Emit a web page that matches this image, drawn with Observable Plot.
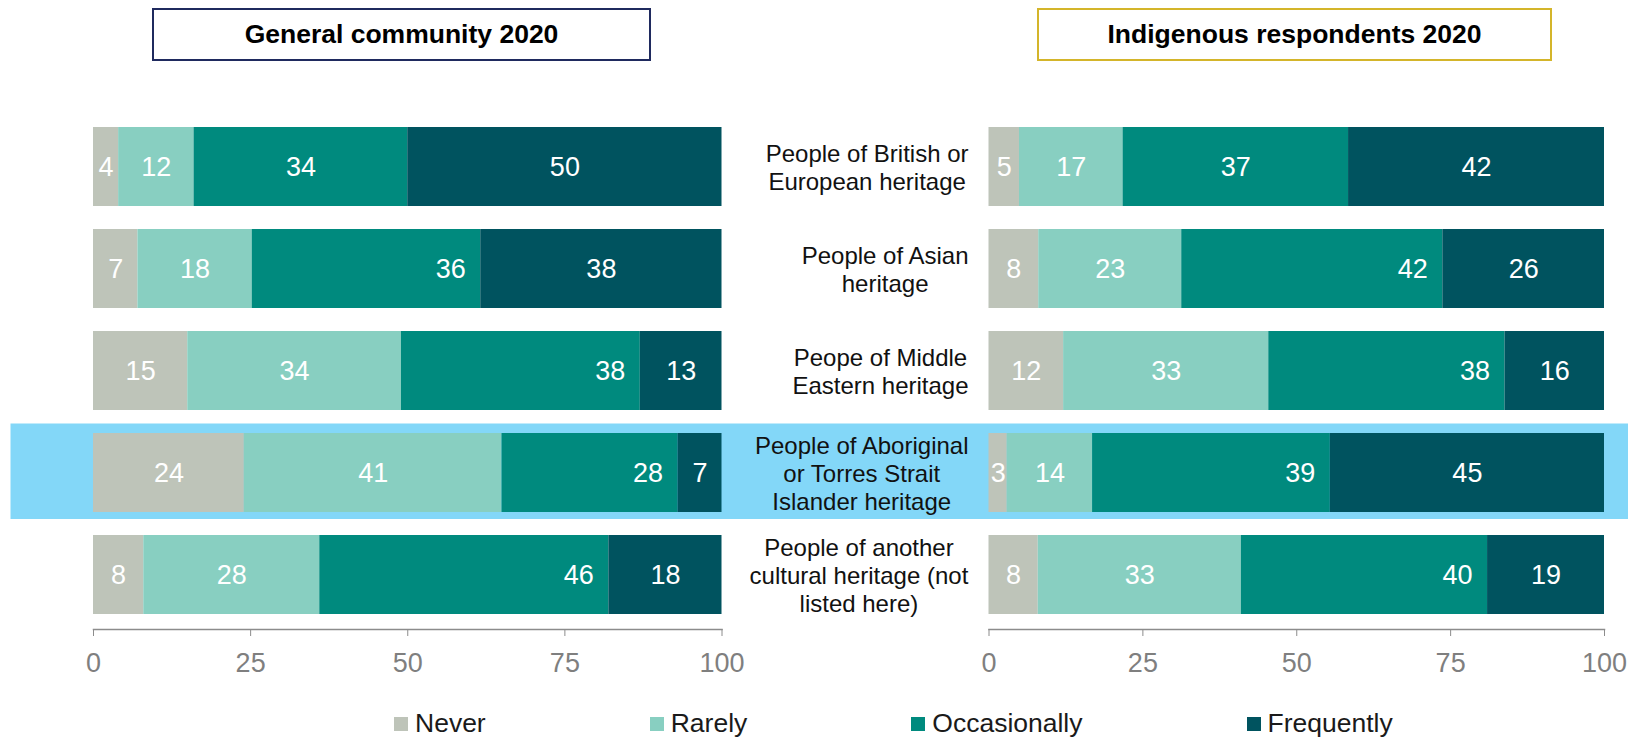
<!DOCTYPE html>
<html>
<head>
<meta charset="utf-8">
<script src="https://cdn.jsdelivr.net/npm/d3@7"></script>
<script src="https://cdn.jsdelivr.net/npm/@observablehq/plot@0.6"></script>
<style>
  body { margin: 0; background: #fff; }
  #root { position: relative; width: 1642px; height: 738px; font-family: "Liberation Sans", Arial, sans-serif; overflow: hidden; }
  .title { position: absolute; box-sizing: border-box; top: 8px; height: 53px; border: 2px solid; display: flex; align-items: center; justify-content: center; font-weight: bold; font-size: 26.5px; color: #000; }
  .panel { position: absolute; top: 70px; }
  #legend { position: absolute; left: 394px; top: 707px; }
  .lg-swatches-wrap .lg-swatch { margin-right: 164px !important; }
  .lg-swatch > svg { margin-right: 7px !important; }
</style>
</head>
<body>
<div id="root"></div>
<script>
// ---- data ----
const categories = [
  "People of British or\nEuropean heritage",
  "People of Asian\nheritage",
  "Peope of Middle\nEastern heritage",
  "People of Aboriginal\nor Torres Strait\nIslander heritage",
  "People of another\ncultural heritage (not\nlisted here)"
];
const series = ["Never", "Rarely", "Occasionally", "Frequently"];
const colors = ["#bec4b9", "#88cfc1", "#008a7e", "#00535f"];

const generalNever        = [4, 7, 15, 24, 8];
const generalRarely       = [12, 18, 34, 41, 28];
const generalOccasionally = [34, 36, 38, 28, 46];
const generalFrequently   = [50, 38, 13, 7, 18];

const indigenousNever        = [5, 8, 12, 3, 8];
const indigenousRarely       = [17, 23, 33, 14, 33];
const indigenousOccasionally = [37, 42, 38, 39, 40];
const indigenousFrequently   = [42, 26, 16, 45, 19];

const xTicks = [0, 25, 50, 75, 100];
const panelTitles = ["General community 2020", "Indigenous respondents 2020"];
const highlightCategory = categories[3];
// rows whose "Occasionally" label sits at the inside end of the segment
const occasionallyEndLabel = [false, true, true, true, true];

// ---- styles ----
const highlightColor = "#83d7f8";
const fontFamily = "\"Liberation Sans\", Arial, sans-serif";

const root = document.getElementById("root");

function makeTitle(text, left, width, border) {
  const d = document.createElement("div");
  d.className = "title";
  d.style.left = left + "px";
  d.style.width = width + "px";
  d.style.borderColor = border;
  d.textContent = text;
  root.appendChild(d);
}
makeTitle(panelTitles[0], 152, 499, "#1f2a5e");
makeTitle(panelTitles[1], 1037, 515, "#d4b52a");

function buildData(values) {
  const data = [];
  series.forEach((s, si) => {
    categories.forEach((c, ci) => {
      data.push({
        category: c,
        series: s,
        value: values[si][ci],
        end: s === "Occasionally" && occasionallyEndLabel[ci]
      });
    });
  });
  return data;
}

function panel({values, width, marginLeft, marginRight, hlLeft, hlRight, showLabels}) {
  const data = buildData(values);
  const st = {offset: "normalize", x: "value", y: "category", z: "series"};
  return Plot.plot({
    width,
    height: 615,
    marginTop: 42.7,
    marginBottom: 56,
    marginLeft,
    marginRight,
    style: {fontFamily, background: "transparent", overflow: "visible"},
    x: {domain: [0, 1], axis: null, label: null},
    y: {domain: categories, paddingInner: 0.224, paddingOuter: 0.127, axis: null, label: null},
    color: {domain: series, range: colors},
    marks: [
      Plot.cell([highlightCategory], {y: d => d, fill: highlightColor, insetTop: -9.5, insetBottom: -7, insetLeft: hlLeft, insetRight: hlRight}),
      Plot.barX(data, Plot.stackX({...st, fill: "series"})),
      Plot.text(data, Plot.stackX({...st, text: d => d.end ? null : String(d.value), fill: "white", fontSize: 27})),
      Plot.text(data, Plot.stackX2({...st, text: d => d.end ? String(d.value) : null, textAnchor: "end", dx: -15, fill: "white", fontSize: 27})),
      Plot.frame({anchor: "bottom", stroke: "#8c8c8c", strokeWidth: 1.5}),
      Plot.axisX({ticks: xTicks.map(t => t / 100), tickFormat: d => String(Math.round(d * 100)), tickSize: 7, tickPadding: 16, fontSize: 27, stroke: "#8c8c8c", fill: "#7f7f7f", label: null}),
      showLabels ? Plot.axisY({tickSize: 0, tickPadding: 20.5, textAnchor: "middle", fontSize: 24, lineHeight: 1.17, fill: "#111", label: null}) : null
    ]
  });
}

const left = panel({
  values: [generalNever, generalRarely, generalOccasionally, generalFrequently],
  width: 730, marginLeft: 93, marginRight: 8.5, hlLeft: -82.5, hlRight: -8.5, showLabels: false
});
left.classList.add("panel");
left.style.left = "0px";
root.appendChild(left);

const right = panel({
  values: [indigenousNever, indigenousRarely, indigenousOccasionally, indigenousFrequently],
  width: 912, marginLeft: 258.5, marginRight: 38, hlLeft: -258.5, hlRight: -24, showLabels: true
});
right.classList.add("panel");
right.style.left = "730px";
root.appendChild(right);

// right-align each category label block while keeping its lines centred
right.querySelectorAll('g[aria-label="y-axis tick label"] text').forEach(t => {
  const w = t.getBBox().width;
  const tr = t.getAttribute("transform") || "";
  t.setAttribute("transform", tr + ` translate(${-w / 2},0)`);
});

const legend = Plot.legend({
  color: {domain: series, range: colors},
  legend: "swatches",
  swatchSize: 14,
  className: "lg",
  style: {fontSize: "26.5px", fontFamily, color: "#1a1a1a"}
});
const lg = document.createElement("div");
lg.id = "legend";
lg.appendChild(legend);
root.appendChild(lg);
</script>
</body>
</html>
